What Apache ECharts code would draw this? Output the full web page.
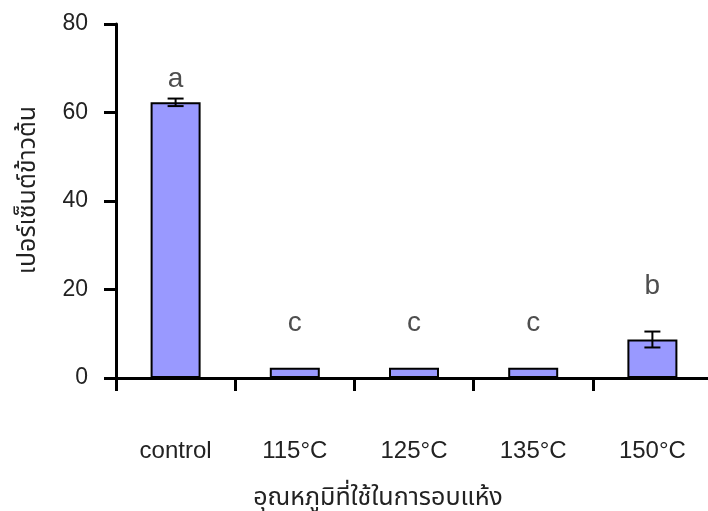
<!DOCTYPE html>
<html>
<head>
<meta charset="utf-8">
<script src="https://cdn.jsdelivr.net/npm/echarts@6/dist/echarts.min.js"></script>
<style>html,body{margin:0;padding:0;background:#fff}#c{width:708px;height:511px}</style>
</head>
<body>
<div id="c"></div>
<script>
const categories = ['control', '115°C', '125°C', '135°C', '150°C'];
const means = [62.3, 2.3, 2.3, 2.3, 8.7];
const errors = [0.85, 0, 0, 0, 1.8];
const letters = ['a', 'c', 'c', 'c', 'b'];
const letterY = [67.4, 12.4, 12.4, 12.4, 20.7];
const yTicks = [0, 20, 40, 60, 80];
const xTitle = 'อุณหภูมิที่ใช้ในการอบแห้ง';
const yTitle = 'เปอร์เซ็นต์ข้าวต้น';

const FONT = "'Liberation Sans', Arial, 'Noto Sans Thai', 'Noto Sans', sans-serif";
const TXT = '#222';

const errData = means.map((m, i) => [i, m - errors[i], m + errors[i]]).filter((d, i) => errors[i] > 0);
const letterData = letters.map((l, i) => [i, letterY[i]]);

const chart = echarts.init(document.getElementById('c'), null, {renderer: 'canvas'});
chart.setOption({
  animation: false,
  backgroundColor: '#fff',
  grid: {left: 116, right: -4, top: 24, bottom: 133, containLabel: false, outerBoundsMode: 'none'},
  xAxis: {
    type: 'category',
    data: categories,
    boundaryGap: true,
    axisLine: {show: true, lineStyle: {color: '#000', width: 3}},
    axisTick: {show: true, inside: false, length: 13, lineStyle: {color: '#000', width: 3}},
    axisLabel: {margin: 61, fontSize: 24, color: TXT, fontFamily: FONT},
    name: xTitle,
    nameLocation: 'middle',
    nameGap: 108,
    nameMoveOverlap: false,
    nameTextStyle: {fontSize: 25, color: TXT, fontFamily: FONT, padding: [0, 72, 0, 0]}
  },
  yAxis: {
    type: 'value',
    min: yTicks[0],
    max: yTicks[yTicks.length - 1],
    interval: 20,
    splitLine: {show: false},
    axisLine: {show: true, lineStyle: {color: '#000', width: 3}},
    axisTick: {show: true, inside: false, length: 12, lineStyle: {color: '#000', width: 3}},
    axisLabel: {margin: 28, fontSize: 23, color: TXT, fontFamily: FONT},
    name: yTitle,
    nameLocation: 'middle',
    nameGap: 75,
    nameMoveOverlap: false,
    nameTextStyle: {fontSize: 25, color: TXT, fontFamily: FONT, padding: [0, 0, 0, 22]}
  },
  series: [
    {
      type: 'bar',
      data: means,
      barWidth: 50,
      itemStyle: {color: '#9999FF', borderColor: '#000', borderWidth: 2}
    },
    {
      type: 'custom',
      data: errData,
      z: 5,
      renderItem: function (params, api) {
        const x = api.value(0);
        const lo = api.coord([x, api.value(1)]);
        const hi = api.coord([x, api.value(2)]);
        const hw = 8;
        const style = {stroke: '#000', lineWidth: 2};
        return {
          type: 'group',
          children: [
            {type: 'line', shape: {x1: lo[0], y1: lo[1], x2: hi[0], y2: hi[1]}, style: style},
            {type: 'line', shape: {x1: lo[0] - hw, y1: lo[1], x2: lo[0] + hw, y2: lo[1]}, style: style},
            {type: 'line', shape: {x1: hi[0] - hw, y1: hi[1], x2: hi[0] + hw, y2: hi[1]}, style: style}
          ]
        };
      }
    },
    {
      type: 'scatter',
      data: letterData,
      symbolSize: 0,
      label: {
        show: true,
        position: 'inside',
        formatter: function (p) { return letters[p.dataIndex]; },
        fontSize: 28,
        color: TXT,
        fontFamily: FONT
      }
    }
  ]
});
</script>
</body>
</html>
